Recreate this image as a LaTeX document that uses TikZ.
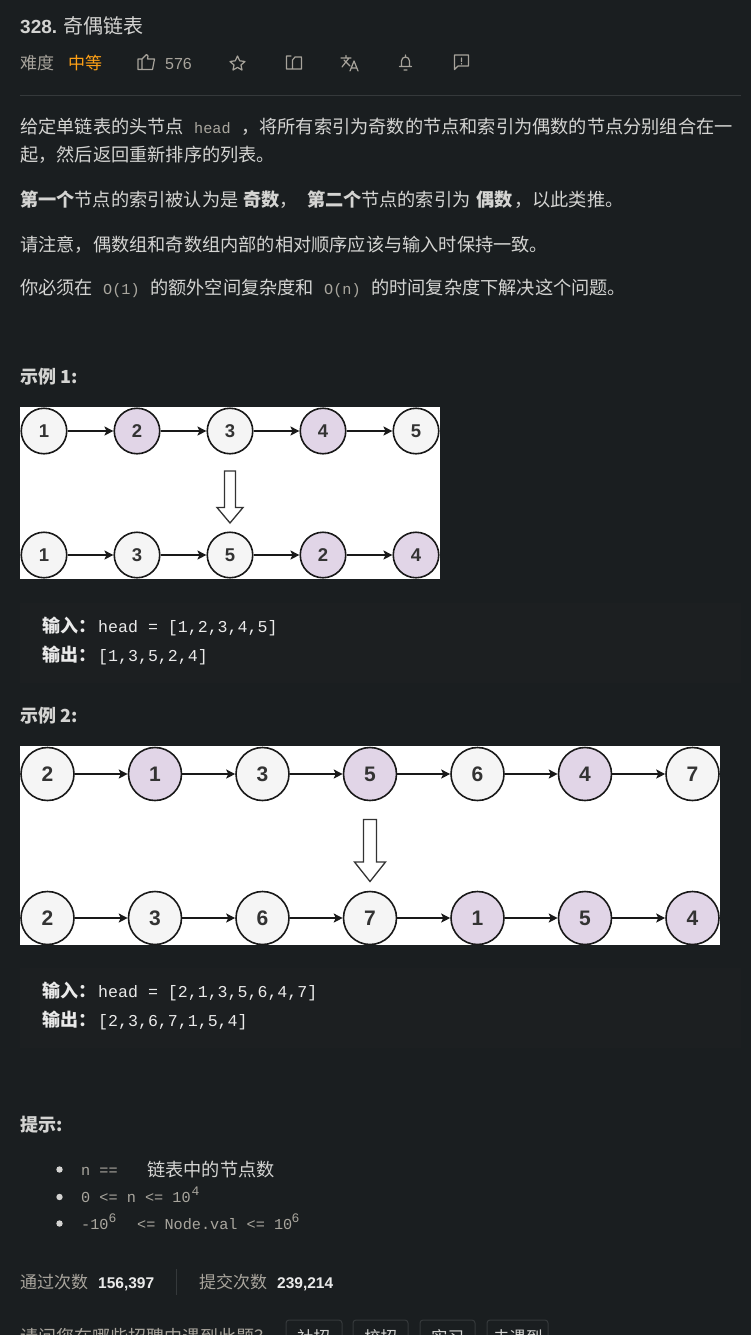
\documentclass[tikz,border=0pt]{standalone}
\usepackage{fontspec}
\setmainfont{Noto Sans CJK SC}
\setsansfont{Liberation Sans}
\setmonofont{Liberation Mono}
\usetikzlibrary{arrows.meta}
\definecolor{pagebg}{HTML}{1A1E20}
\definecolor{codebg}{HTML}{1C1F21}
\definecolor{bodytxt}{HTML}{D4D4D2}
\definecolor{greytxt}{HTML}{A8A49C}
\definecolor{monotxt}{HTML}{A9A69E}
\definecolor{whitetxt}{HTML}{EAEAEA}
\definecolor{rulegrey}{HTML}{35393B}
\definecolor{orangetxt}{HTML}{FFA116}
\definecolor{plainfill}{HTML}{F5F5F5}
\definecolor{purplefill}{HTML}{E1D5E7}
\tikzset{
	txt/.style={anchor=base west,inner sep=0pt,text=bodytxt,font=\fontsize{18.2}{20}\selectfont},
	boldtxt/.style={txt,font=\fontsize{18.2}{20}\selectfont\bfseries},
	headtxt/.style={txt,font=\fontsize{18}{20}\selectfont\bfseries},
	greylbl/.style={txt,text=greytxt,font=\fontsize{17}{20}\selectfont},
	statnum/.style={txt,text=whitetxt,font=\sffamily\bfseries\fontsize{15.5}{20}\selectfont},
	code/.style={txt,text=monotxt,font=\ttfamily\fontsize{15.2}{20}\selectfont},
	supcode/.style={txt,text=monotxt,font=\ttfamily\fontsize{13}{14}\selectfont},
	sample/.style={txt,text=whitetxt,font=\ttfamily\fontsize{16.6}{20}\selectfont},
	samplelbl/.style={txt,text=whitetxt,font=\fontsize{18}{20}\selectfont\bfseries},
	btntxt/.style={txt,font=\fontsize{16.5}{20}\selectfont},
	small/.style={circle,draw=black!90,line width=1.6pt,minimum size=45.5pt,inner sep=0pt,text=black!80,font=\sffamily\bfseries\fontsize{18.5}{20}\selectfont},
	big/.style={small,minimum size=53pt,font=\sffamily\bfseries\fontsize{21}{24}\selectfont},
	link/.style={-{Stealth[length=9pt,width=9pt,inset=2pt]},line width=1.2pt,black!90},
	blockarrow/.style={draw=black!80,line width=1.3pt,fill=white,line join=miter},
	icon/.style={draw=greytxt,line width=1.2pt,line join=round,line cap=round},
	btn/.style={draw=rulegrey,line width=1pt,rounded corners=3pt}
}
\begin{document}
\begin{tikzpicture}[x=1pt,y=-1pt]
	\useasboundingbox (0,0) rectangle (751,1335);
	\fill[pagebg] (0,0) rectangle (751,1335);
	\fill[codebg] (20,603) rectangle (741,683);
	\fill[codebg] (20,968) rectangle (741,1048);
	% header
	\node[txt,font=\sffamily\bfseries\fontsize{19}{20}\selectfont] (num) at (20,34) {328.};
	\node[txt,font=\fontsize{20}{22}\selectfont] (title) at (63,34) {奇偶链表};
	\node[greylbl] (level) at (20,70) {难度};
	\node[greylbl,text=orangetxt] (mid) at (68,70) {中等};
	\node[greylbl,font=\sffamily\fontsize{16}{20}\selectfont] (likes) at (165,70) {576};
	\draw[icon] (138,59)--(142,59)--(142,69.5)--(138,69.5)--cycle
	(142,59)--(146.5,54.5)--(148,56)--(147.5,59)--(154.5,59)--(152.5,69.5)--(142,69.5) ;
	\draw[icon] (237.5,56)--(239.7,60.8)--(245,61.5)--(241,65)--(242,70)--(237.5,67.4)--(233,70)--(234,65)--(230,61.5)--(235.3,60.8)--cycle ;
	\draw[icon] (291,56)--(286.5,56)--(286.5,69)--(301.5,69)--(301.5,58) (292.5,69)--(292.5,60)--(295,57)--(301.5,57) ;
	\draw[icon] (341,58)--(351,58) (346,55.5)--(346,58) (349,58)--(342,67) (344,60)--(350,66)
	(350,71)--(354,61)--(358,71) (351.5,68)--(356.5,68) ;
	\draw[icon] (399.5,66.5)--(411.5,66.5) (401.5,66.5)--(401.5,61) arc[start angle=180,end angle=360,radius=4]--(409.5,66.5)
	(405.5,55)--(405.5,57) (404,70)--(407,70) ;
	\draw[icon] (454.5,55)--(468.5,55)--(468.5,66)--(458,66)--(454.5,69.5)--cycle (461.5,58)--(461.5,61.5) (461.5,63.5)--(461.5,64) ;
	\draw[rulegrey] (20,95.5)--(741,95.5) ;
	% description
	\node[txt] (l1a) at (20,134) {给定单链表的头节点};
	\node[code] (l1b) at (194,134) {head};
	\node[txt] (l1c) at (241,134) {，将所有索引为奇数的节点和索引为偶数的节点分别组合在一};
	\node[txt] (l2) at (20,161) {起，然后返回重新排序的列表。};
	\node[boldtxt] (l3a) at (20,206) {第一个};
	\node[txt] (l3b) at (74.5,206) {节点的索引被认为是};
	\node[boldtxt] (l3c) at (243,206) {奇数};
	\node[txt] (l3d) at (279,206) {，};
	\node[boldtxt] (l3e) at (307,206) {第二个};
	\node[txt] (l3f) at (361,206) {节点的索引为};
	\node[boldtxt] (l3g) at (476,206) {偶数};
	\node[txt] (l3h) at (514,206) {，以此类推。};
	\node[txt] (l4) at (20,251) {请注意，偶数组和奇数组内部的相对顺序应该与输入时保持一致。};
	\node[txt] (l5a) at (20,294) {你必须在};
	\node[code] (l5b) at (103,294) {O(1)};
	\node[txt] (l5c) at (150,294) {的额外空间复杂度和};
	\node[code] (l5d) at (324,294) {O(n)};
	\node[txt] (l5e) at (371,294) {的时间复杂度下解决这个问题。};
	% example 1
	\node[headtxt] (ex1) at (20,383) {示例 1:};
	\fill[white] (20,407) rectangle (440,579);
	\foreach \v/\s [count=\i] in {1/plainfill,2/purplefill,3/plainfill,4/purplefill,5/plainfill}
	\node[small,fill=\s] (a\i) at (44+93*\i-93,431) {\v};
	\foreach \v/\s [count=\i] in {1/plainfill,3/plainfill,5/plainfill,2/purplefill,4/purplefill}
	\node[small,fill=\s] (b\i) at (44+93*\i-93,555) {\v};
	\foreach \i [evaluate=\i as \j using int(\i+1)] in {1,2,3,4} {
		\draw[link] (a\i)--(a\j) ;
		\draw[link] (b\i)--(b\j) ;
	}
	\draw[blockarrow] (224.5,471)--(235.5,471)--(235.5,507.5)--(243,507.5)--(230,523)--(217,507.5)--(224.5,507.5)--cycle ;
	\node[samplelbl] (in1) at (42,632) {输入：};
	\node[sample] (in1v) at (98,632) {head = [1,2,3,4,5]};
	\node[samplelbl] (out1) at (42,661) {输出：};
	\node[sample] (out1v) at (98,661) {[1,3,5,2,4]};
	% example 2
	\node[headtxt] (ex2) at (20,722) {示例 2:};
	\fill[white] (20,746) rectangle (720,945);
	\foreach \v/\s [count=\i] in {2/plainfill,1/purplefill,3/plainfill,5/purplefill,6/plainfill,4/purplefill,7/plainfill}
	\node[big,fill=\s] (c\i) at (47.5+107.5*\i-107.5,774) {\v};
	\foreach \v/\s [count=\i] in {2/plainfill,3/plainfill,6/plainfill,7/plainfill,1/purplefill,5/purplefill,4/purplefill}
	\node[big,fill=\s] (d\i) at (47.5+107.5*\i-107.5,918) {\v};
	\foreach \i [evaluate=\i as \j using int(\i+1)] in {1,2,3,4,5,6} {
		\draw[link] (c\i)--(c\j) ;
		\draw[link] (d\i)--(d\j) ;
	}
	\draw[blockarrow] (363.5,819.5)--(376.5,819.5)--(376.5,862)--(385.5,862)--(370,881.5)--(354.5,862)--(363.5,862)--cycle ;
	\node[samplelbl] (in2) at (42,997) {输入：};
	\node[sample] (in2v) at (98,997) {head = [2,1,3,5,6,4,7]};
	\node[samplelbl] (out2) at (42,1026) {输出：};
	\node[sample] (out2v) at (98,1026) {[2,3,6,7,1,5,4]};
	% hints
	\node[headtxt] (hint) at (20,1131) {提示:};
	\foreach \y in {1169.5,1197,1223.5}
	\fill[bodytxt] (59.5,\y) circle (3.2) ;
	\node[code] (h1a) at (81,1175) {n ==};
	\node[txt] (h1b) at (147,1176) {链表中的节点数};
	\node[code] (h2a) at (81,1202) {0 <= n <= 10};
	\node[supcode] (h2b) at (191.5,1195) {4};
	\node[code] (h3a) at (81,1229) {-10};
	\node[supcode] (h3b) at (108.5,1222) {6};
	\node[code] (h3c) at (137,1229) {<= Node.val <= 10};
	\node[supcode] (h3d) at (291.5,1222) {6};
	% stats
	\node[greylbl] (pass) at (20,1288) {通过次数};
	\node[statnum] (passv) at (98,1288) {156,397};
	\draw[rulegrey] (176.5,1269)--(176.5,1295) ;
	\node[greylbl] (sub) at (199,1288) {提交次数};
	\node[statnum] (subv) at (277,1288) {239,214};
	% last row, cut by the page
	\node[greylbl,font=\fontsize{18}{20}\selectfont] (ask) at (20,1343) {请问您在哪些招聘中遇到此题？};
	\draw[btn] (286,1345) rectangle (342,1320) ;
	\draw[btn] (353,1345) rectangle (408,1320) ;
	\draw[btn] (420,1345) rectangle (475,1320) ;
	\draw[btn] (487,1345) rectangle (548,1320) ;
	\node[btntxt] (b1) at (297,1343) {社招};
	\node[btntxt] (b2) at (364,1343) {校招};
	\node[btntxt] (b3) at (431,1343) {实习};
	\node[btntxt] (b4) at (493,1343) {未遇到};
\end{tikzpicture}
\end{document}
